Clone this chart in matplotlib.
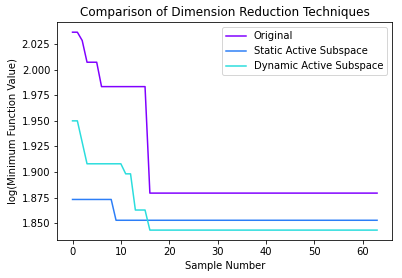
import numpy as np
import matplotlib
matplotlib.use('Agg')
import matplotlib.pyplot as plt

n_samples = 64
samples = np.arange(n_samples)

# step values (value, index where it starts)
original_steps = [(2.0365, 0), (2.0284, 2), (2.0072, 3), (1.9834, 6), (1.8795, 16)]
static_steps = [(1.8733, 0), (1.8530, 9)]
dynamic_steps = [(1.9500, 0), (1.9291, 2), (1.9081, 3), (1.8983, 11), (1.8630, 13), (1.8434, 16)]


def expand(steps):
    vals = np.zeros(n_samples)
    for v, start in steps:
        vals[start:] = v
    return vals


original = expand(original_steps)
static = expand(static_steps)
dynamic = expand(dynamic_steps)

colors = plt.cm.rainbow(np.linspace(0, 1, 7))

fig = plt.figure(figsize=(402 / 72, 278 / 72), dpi=72)
ax = fig.add_axes([57.3 / 402, 1 - 240 / 278, (392.3 - 57.3) / 402, (240 - 22.3) / 278])

ax.plot(samples, original, color=colors[0], label='Original')
ax.plot(samples, static, color=colors[1], label='Static Active Subspace')
ax.plot(samples, dynamic, color=colors[2], label='Dynamic Active Subspace')

ax.set_title('Comparison of Dimension Reduction Techniques')
ax.set_xlabel('Sample Number')
ax.set_ylabel('log(Minimum Function Value)')
ax.set_yticks([1.850, 1.875, 1.900, 1.925, 1.950, 1.975, 2.000, 2.025])
ax.legend()

fig.savefig('out.png', dpi=72)
